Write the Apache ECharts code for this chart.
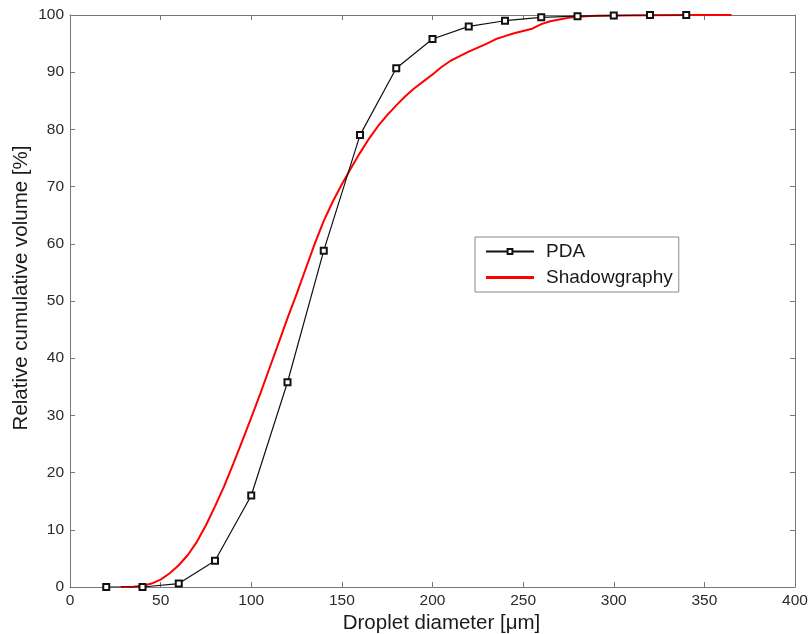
<!DOCTYPE html>
<html><head><meta charset="utf-8">
<script src="https://cdn.jsdelivr.net/npm/echarts@6/dist/echarts.min.js"></script>
<style>html,body{margin:0;padding:0;background:#fff}#c{width:809px;height:634px}</style>
</head><body><div id="c"></div>
<script>
const pdaX = [20,40,60,80,100,120,140,160,180,200,220,240,260,280,300,320,340];
const pdaY = [0,0,0.6,4.6,16,35.8,58.8,79,90.7,95.8,98,99,99.6,99.8,99.9,100,100];
const shX = [28,35,40,45,50,55,60,65,70,75,80,85,90,95,100,105,110,115,120,125,130,135,140,145,150,155,160,165,170,175,180,185,190,195,200,205,210,215,220,225,230,235,240,245,250,255,260,265,270,275,280,290,300,320,340,365];
const shY = [0,0.05,0.2,0.6,1.3,2.4,3.8,5.6,7.9,10.8,14.1,17.6,21.5,25.5,29.6,33.8,38.2,42.6,47.0,51.2,55.6,60.0,64.0,67.4,70.4,73.2,75.9,78.4,80.6,82.5,84.2,85.8,87.2,88.4,89.6,90.9,92.0,92.8,93.6,94.3,95.0,95.8,96.3,96.8,97.2,97.6,98.4,98.9,99.2,99.5,99.7,99.85,99.9,99.95,100,100];
const xTicks = {min:0, max:400, interval:50};
const yTicks = {min:0, max:100, interval:10};
const xName = 'Droplet diameter [μm]';
const yName = 'Relative cumulative volume [%]';

const frame = '#777';
const font = 'Liberation Sans, Arial, sans-serif';
const chart = echarts.init(document.getElementById('c'));
function ax(extra){
  return Object.assign({
    type:'value',
    axisLine:{show:true,onZero:false,lineStyle:{color:frame,width:1}},
    axisTick:{show:true,inside:true,length:5,lineStyle:{color:frame}},
    splitLine:{show:false},
  }, extra);
}
chart.setOption({
  animation:false,
  backgroundColor:'#fff',
  grid:{left:70,right:14,top:15,bottom:47,containLabel:false,outerBoundsMode:'none'},
  xAxis:[
    ax(Object.assign({position:'bottom',name:xName,nameLocation:'middle',nameGap:26,nameMoveOverlap:false,
      nameTextStyle:{fontFamily:font,fontSize:20.5,color:'#1a1a1a',verticalAlign:'top',padding:[0,0,0,18]},
      axisLabel:{fontFamily:font,fontSize:15.5,color:'#2a2a2a',margin:6}}, xTicks)),
    ax(Object.assign({position:'top',axisLabel:{show:false}}, xTicks))
  ],
  yAxis:[
    ax(Object.assign({position:'left',name:yName,nameLocation:'middle',nameGap:38,nameMoveOverlap:false,
      nameTextStyle:{fontFamily:font,fontSize:20.5,color:'#1a1a1a',padding:[0,0,0,26]},
      axisLabel:{fontFamily:font,fontSize:15.5,color:'#2a2a2a',margin:6}}, yTicks)),
    ax(Object.assign({position:'right',axisLabel:{show:false}}, yTicks))
  ],
  legend:{
    orient:'vertical',left:475,top:237,
    backgroundColor:'#fff',borderColor:'#888',borderWidth:1,
    padding:[5,6,5,10],itemGap:7,itemWidth:48,itemHeight:6,
    textStyle:{fontFamily:font,fontSize:19,color:'#1a1a1a',padding:[0,0,0,7]},
    data:[
      {name:'PDA'},
      {name:'Shadowgraphy',icon:'path://M0,4H48V7H0Z',itemStyle:{color:'#ff0000'}}
    ]
  },
  series:[
    {name:'Shadowgraphy',type:'line',data:shX.map((x,i)=>[x,shY[i]]),
     showSymbol:false,symbol:'none',lineStyle:{color:'#ff0000',width:2},itemStyle:{color:'#ff0000'},z:2},
    {name:'PDA',type:'line',data:pdaX.map((x,i)=>[x,pdaY[i]]),
     symbol:'emptyRect',symbolSize:6,lineStyle:{color:'#111',width:1.2},
     itemStyle:{color:'#111',borderColor:'#111',borderWidth:1.3},z:3}
  ]
});
</script></body></html>
